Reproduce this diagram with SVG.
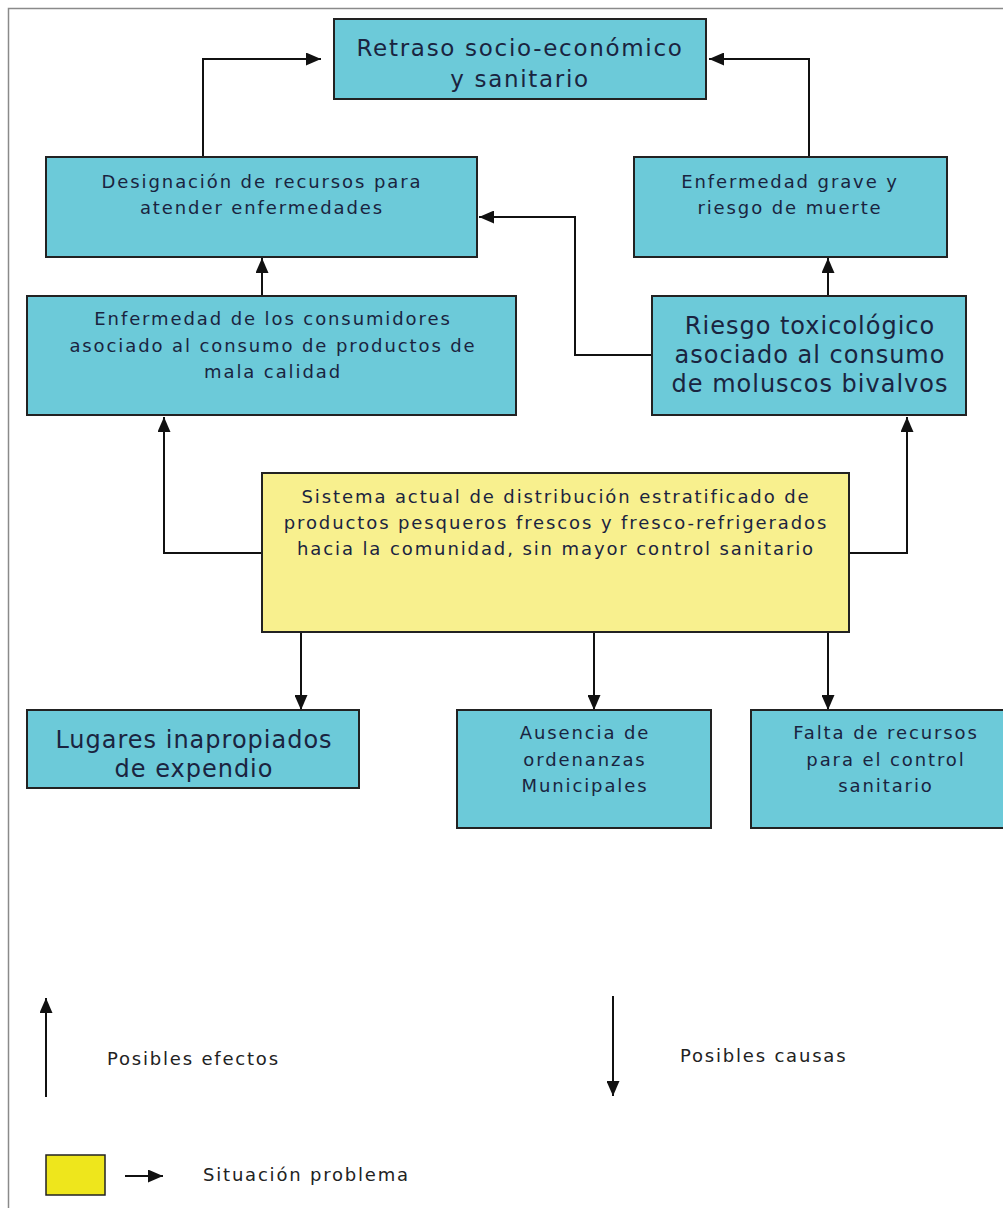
<svg xmlns="http://www.w3.org/2000/svg" width="1003" height="1208" viewBox="0 0 1003 1208">
<style>
.box{fill:#6ccad9;stroke:#222;stroke-width:2}
.prob{fill:#f8f08e;stroke:#222;stroke-width:2}
.t{font-family:"DejaVu Sans",Verdana,sans-serif;fill:#1a2440;text-anchor:middle}
.s{font-size:18px;letter-spacing:1.9px}
.l{font-size:24px;letter-spacing:1px}
.h{font-size:23px;letter-spacing:1.7px}
.lg{font-family:"DejaVu Sans",Verdana,sans-serif;fill:#222;font-size:18px;letter-spacing:1.8px}
.c{fill:none;stroke:#111;stroke-width:2;marker-end:url(#ah)}
</style>
<defs>
<marker id="ah" markerUnits="userSpaceOnUse" markerWidth="15" markerHeight="13" refX="15" refY="6.5" orient="auto">
<path d="M0,0 L15,6.5 L0,13 z" fill="#111"/>
</marker>
</defs>
<rect x="0" y="0" width="1003" height="1208" fill="#fff"/>
<rect x="8.5" y="8.5" width="1010" height="1215" fill="none" stroke="#8a8a8a" stroke-width="1.5"/>

<g id="connectors">
<path class="c" d="M203,157 V59 H321"/>
<path class="c" d="M809,157 V59 H709"/>
<path class="c" d="M262,297 V258"/>
<path class="c" d="M828,297 V258"/>
<path class="c" d="M652,355 H575 V217 H479"/>
<path class="c" d="M262,553 H164 V417"/>
<path class="c" d="M849,553 H907 V417"/>
<path class="c" d="M301,632 V710"/>
<path class="c" d="M594,632 V710"/>
<path class="c" d="M828,632 V710"/>
</g>

<g id="retraso">
<rect class="box" x="334" y="19" width="372" height="80"/>
<text class="t h" x="520" y="56">Retraso socio-económico</text>
<text class="t h" x="520" y="87">y sanitario</text>
</g>

<g id="designacion">
<rect class="box" x="46" y="157" width="431" height="100"/>
<text class="t s" x="262" y="188">Designación de recursos para</text>
<text class="t s" x="262" y="214">atender enfermedades</text>
</g>

<g id="grave">
<rect class="box" x="634" y="157" width="313" height="100"/>
<text class="t s" x="790" y="188">Enfermedad grave y</text>
<text class="t s" x="790" y="214">riesgo de muerte</text>
</g>

<g id="consumidores">
<rect class="box" x="27" y="296" width="489" height="119"/>
<text class="t s" x="273" y="325">Enfermedad de los consumidores</text>
<text class="t s" x="273" y="352">asociado al consumo de productos de</text>
<text class="t s" x="273" y="378">mala calidad</text>
</g>

<g id="riesgo">
<rect class="box" x="652" y="296" width="314" height="119"/>
<text class="t l" x="810" y="334">Riesgo toxicológico</text>
<text class="t l" x="810" y="363">asociado al consumo</text>
<text class="t l" x="810" y="392">de moluscos bivalvos</text>
</g>

<g id="sistema">
<rect class="prob" x="262" y="473" width="587" height="159"/>
<text class="t s" x="556" y="503">Sistema actual de distribución estratificado de</text>
<text class="t s" x="556" y="529">productos pesqueros frescos y fresco-refrigerados</text>
<text class="t s" x="556" y="555">hacia la comunidad, sin mayor control sanitario</text>
</g>

<g id="lugares">
<rect class="box" x="27" y="710" width="332" height="78"/>
<text class="t l" x="194" y="748">Lugares inapropiados</text>
<text class="t l" x="194" y="777">de expendio</text>
</g>

<g id="ausencia">
<rect class="box" x="457" y="710" width="254" height="118"/>
<text class="t s" x="585" y="739">Ausencia de</text>
<text class="t s" x="585" y="766">ordenanzas</text>
<text class="t s" x="585" y="792">Municipales</text>
</g>

<g id="falta">
<rect class="box" x="751" y="710" width="268" height="118"/>
<text class="t s" x="886" y="739">Falta de recursos</text>
<text class="t s" x="886" y="766">para el control</text>
<text class="t s" x="886" y="792">sanitario</text>
</g>

<g id="legend">
<path class="c" d="M46,1097 V998"/>
<text class="lg" x="107" y="1065">Posibles efectos</text>
<path class="c" d="M613,996 V1096"/>
<text class="lg" x="680" y="1062">Posibles causas</text>
<rect x="46" y="1155" width="59" height="40" fill="#eee61c" stroke="#222" stroke-width="1.5"/>
<path class="c" d="M125,1176 H163"/>
<text class="lg" x="203" y="1181">Situación problema</text>
</g>
</svg>
